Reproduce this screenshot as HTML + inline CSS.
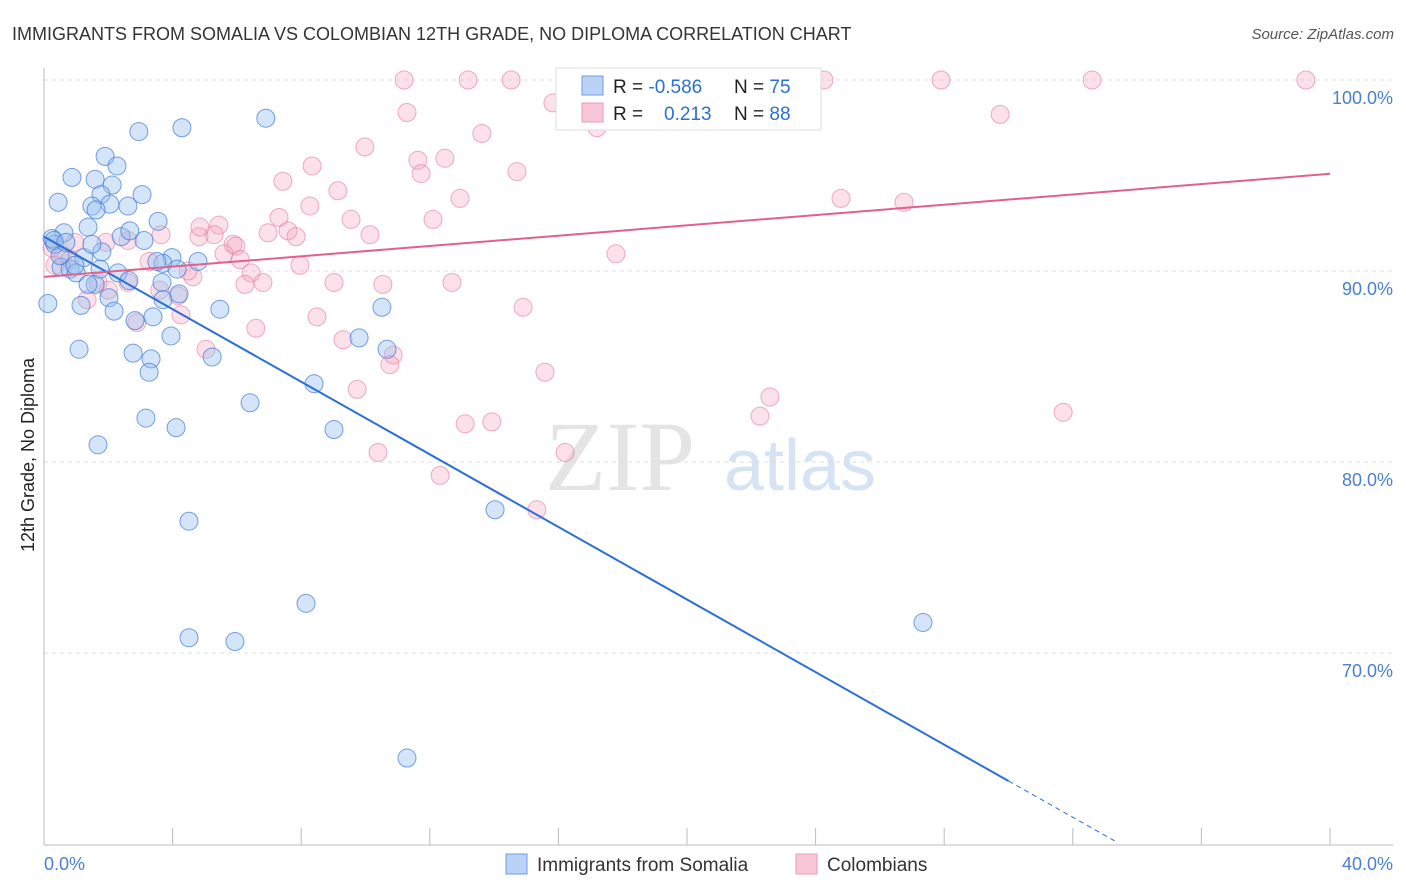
<!DOCTYPE html>
<html><head><meta charset="utf-8"><style>
body{margin:0;background:#fff;font-family:"Liberation Sans",sans-serif;}
svg{display:block}
</style></head><body>
<svg id="chart" width="1406" height="892">
<text x="12" y="40" font-size="18" fill="#333">IMMIGRANTS FROM SOMALIA VS COLOMBIAN 12TH GRADE, NO DIPLOMA CORRELATION CHART</text>
<text x="1394" y="39" font-size="15" fill="#555" font-style="italic" text-anchor="end">Source: ZipAtlas.com</text>
<text x="620" y="490" font-size="100" fill="#e4e4e4" font-family="Liberation Serif,serif" text-anchor="middle">ZIP</text>
<text x="800" y="490" font-size="72" fill="#d6e3f5" text-anchor="middle">atlas</text>
<g id="grid"></g><g id="axes"></g><g id="pts"></g><g id="lines"></g>
<text transform="translate(34,455) rotate(-90)" font-size="18" fill="#222" text-anchor="middle">12th Grade, No Diploma</text>
<g>
<rect x="556" y="68" width="265" height="62" fill="#fff" stroke="#ddd"/>
<rect x="582" y="76" width="21" height="19" fill="#b9d2f5" stroke="#6f9be0"/>
<text x="613" y="93" font-size="19" fill="#222">R = <tspan fill="#2a6fd6">-0.586</tspan><tspan x="734">N = </tspan><tspan fill="#2a6fd6">75</tspan></text>
<rect x="582" y="103" width="21" height="19" fill="#f8c6d6" stroke="#e99ab4"/>
<text x="613" y="120" font-size="19" fill="#222">R = <tspan x="664" fill="#2a6fd6">0.213</tspan><tspan x="734">N = </tspan><tspan fill="#2a6fd6">88</tspan></text>
</g>
<g>
<rect x="506" y="854" width="21" height="20" fill="#b9d2f5" stroke="#6f9be0"/>
<text x="537" y="871" font-size="19" fill="#333">Immigrants from Somalia</text>
<rect x="796" y="854" width="21" height="20" fill="#f8c6d6" stroke="#e99ab4"/>
<text x="827" y="871" font-size="19" fill="#333">Colombians</text>
</g>
</svg>
<script>
const xTicks=[0,4,8,12,16,20,24,28,32,36,40];
const yTicks=[70,80,90,100];
const yTickLabels=["70.0%","80.0%","90.0%","100.0%"];
const xEndLabels=["0.0%","40.0%"];
const somaliaX=[6.9,4.29,2.95,1.9,2.27,0.87,1.59,2.12,1.77,3.05,0.44,1.49,2.05,2.61,1.62,3.55,1.37,0.62,2.4,0.25,3.11,0.34,1.8,1.24,3.98,4.79,3.7,0.53,0.81,1.0,2.3,2.64,4.14,1.59,1.37,3.67,0.12,2.02,3.7,4.2,1.15,2.18,5.47,10.51,3.39,2.83,3.95,9.8,1.09,2.77,3.33,10.67,5.23,3.27,8.4,6.41,3.17,4.11,9.02,1.68,14.03,4.51,8.15,27.34,4.51,5.94,11.29,0.31,0.5,0.68,0.96,1.49,2.67,3.51,1.74];
const somaliaY=[98.0,97.5,97.3,96.0,95.5,94.9,94.8,94.5,94.0,94.0,93.6,93.4,93.5,93.4,93.2,92.6,92.3,92.0,91.8,91.7,91.6,91.4,91.0,90.7,90.7,90.5,90.4,90.2,90.1,89.9,89.9,89.5,90.1,89.3,89.3,89.4,88.3,88.6,88.5,88.8,88.2,87.9,88.0,88.1,87.6,87.4,86.6,86.5,85.9,85.7,85.4,85.9,85.5,84.7,84.1,83.1,82.3,81.8,81.7,80.9,77.5,76.9,72.6,71.6,70.8,70.6,64.5,91.6,90.8,91.5,90.3,91.4,92.1,90.5,90.1];
const colX=[11.2,13.19,14.53,19.53,24.26,27.9,32.6,39.25,15.83,11.29,29.74,17.2,13.62,9.98,11.63,12.47,8.34,11.73,14.71,7.43,9.14,12.94,24.79,26.75,8.27,7.31,5.44,9.55,12.1,7.59,6.97,5.29,7.84,10.14,4.82,3.64,5.88,5.97,2.61,1.93,0.96,0.25,0.59,5.6,17.79,3.27,7.96,6.44,4.63,4.48,6.25,6.81,9.02,10.54,12.69,2.61,1.68,1.34,4.17,14.9,4.26,8.49,6.59,2.89,9.3,5.04,10.86,10.76,15.58,9.74,22.58,22.27,31.7,13.1,13.93,10.39,16.21,12.32,15.33,4.85,6.1,3.6,2.0,0.34,0.81];
const colY=[100,100,100,100,100,100,100,100,98.8,98.3,98.2,97.5,97.2,96.5,95.8,95.9,95.5,95.1,95.2,94.7,94.2,93.8,93.8,93.6,93.4,92.8,92.4,92.7,92.7,92.1,92.0,91.9,91.8,91.9,91.8,91.9,91.4,91.3,91.6,91.5,91.5,91.2,90.8,90.9,90.9,90.5,90.3,89.9,89.7,90.0,89.3,89.4,89.4,89.3,89.4,89.4,89.4,88.5,88.7,88.1,87.7,87.6,87.0,87.3,86.4,85.9,85.6,85.1,84.7,83.8,83.4,82.4,82.6,82.0,82.1,80.5,80.5,79.3,77.5,92.3,90.6,89.0,89.0,90.3,90.6];
const somaliaTrend=[91.8,-0.95]; // intercept, slope
const colTrend=[89.69,0.135];
const NS="http://www.w3.org/2000/svg";
const X=v=>44+v*32.15, Y=v=>80+(100-v)*19.1;
function mk(tag,attrs,parent){const e=document.createElementNS(NS,tag);for(const k in attrs)e.setAttribute(k,attrs[k]);document.getElementById(parent).appendChild(e);return e;}
yTicks.forEach((t,i)=>{
 const g=mk('line',{x1:44,x2:1393,y1:Y(t),y2:Y(t),stroke:'#ddd','stroke-dasharray':'4,4'},'grid');
 
 
 const l=mk('text',{x:1393,y:Y(t)+24,'font-size':18,fill:'#4a7fd0','text-anchor':'end'},'grid');
 l.textContent=yTickLabels[i];
 
 
});
const ax=mk('line',{x1:44,x2:1393,y1:845,y2:845,stroke:'#bbb'},'axes');


const ay=mk('line',{x1:44,x2:44,y1:68,y2:845,stroke:'#bbb'},'axes');


xTicks.forEach(t=>{
 const k=mk('line',{x1:X(t),x2:X(t),y1:828,y2:845,stroke:'#bbb'},'axes');
 
 
});
const xl0=mk('text',{x:44,y:870,'font-size':18,fill:'#4a7fd0'},'axes');xl0.textContent=xEndLabels[0];


const xl1=mk('text',{x:1393,y:870,'font-size':18,fill:'#4a7fd0','text-anchor':'end'},'axes');xl1.textContent=xEndLabels[1];


colX.forEach((x,i)=>{
 const c=mk('circle',{cx:X(x),cy:Y(colY[i]),r:9,fill:'rgba(245,165,192,0.33)',stroke:'rgba(225,120,155,0.6)','stroke-width':1},'pts');
 
 
});
somaliaX.forEach((x,i)=>{
 const c=mk('circle',{cx:X(x),cy:Y(somaliaY[i]),r:9,fill:'rgba(150,190,240,0.4)',stroke:'rgba(60,120,215,0.7)','stroke-width':1},'pts');
 
 
});
const f=(tr,x)=>tr[0]+tr[1]*x;
const b1=mk('line',{x1:X(0),y1:Y(f(somaliaTrend,0)),x2:X(30),y2:Y(f(somaliaTrend,30)),stroke:'#2a6fd6','stroke-width':2},'lines');


const b2=mk('line',{x1:X(30),y1:Y(f(somaliaTrend,30)),x2:X(33.3),y2:Y(f(somaliaTrend,33.3)),stroke:'#2a6fd6','stroke-width':1,'stroke-dasharray':'5,4'},'lines');


const p1=mk('line',{x1:X(0),y1:Y(f(colTrend,0)),x2:X(40),y2:Y(f(colTrend,40)),stroke:'#e0608e','stroke-width':2},'lines');


</script>
</body></html>
